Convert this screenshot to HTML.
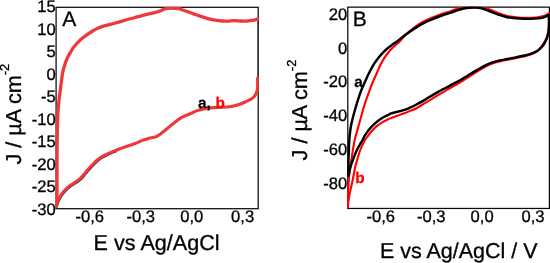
<!DOCTYPE html>
<html><head><meta charset="utf-8"><style>
html,body{margin:0;padding:0;background:#fff;}
svg{display:block;font-family:"Liberation Sans",sans-serif;}
text{text-rendering:geometricPrecision;}
.t{will-change:transform;}
</style></head><body>
<svg width="550" height="263" viewBox="0 0 550 263">
<rect width="550" height="263" fill="#fff"/>
<defs><clipPath id="cl"><rect x="55.5" y="6.7" width="203.3" height="202.6"/></clipPath><clipPath id="cr"><rect x="347.2" y="6.55" width="202.8" height="202.5"/></clipPath></defs>
<!-- frames -->
<g fill="none" stroke="#0a0a0a" stroke-width="1.25">
<rect x="56.1" y="7.3" width="202.1" height="201.4"/>
<rect x="347.8" y="7.15" width="201.6" height="201.3"/>
</g>
<!-- left curves -->
<g clip-path="url(#cl)" fill="none" stroke-linecap="round" stroke-linejoin="round">
<path d="M115.2,150.7C113.7,151.3 109.1,153.1 106.4,154.4C103.7,155.8 101.1,157.1 98.8,158.8C96.5,160.5 94.5,162.6 92.6,164.5C90.7,166.4 88.8,168.7 87.5,170.1C86.2,171.5 86.4,171.4 85.0,173.0C83.6,174.6 81.4,177.7 78.9,179.8C76.4,181.9 72.6,183.6 70.1,185.5C67.6,187.4 65.6,189.3 63.8,191.3C62.0,193.3 60.5,195.6 59.4,197.6C58.2,199.6 57.5,201.7 56.9,203.2C56.3,204.7 56.0,206.2 55.8,206.8" stroke="#333" stroke-width="2.4" transform="translate(0.5,0.8)"/>
<path d="M257.7,21V78" stroke="#333" stroke-width="0.7"/>
<path d="M55.9,206.5C56.0,205.8 56.3,203.6 56.5,202.0C56.7,200.4 56.9,200.7 57.0,197.0C57.1,193.3 57.0,186.2 57.0,180.0C57.1,173.8 57.0,166.2 57.0,160.0C57.1,153.8 57.1,148.3 57.1,143.0C57.2,137.7 57.3,133.0 57.4,128.0C57.5,123.0 57.7,117.2 57.9,113.0C58.1,108.8 58.4,106.0 58.8,102.6C59.1,99.2 59.6,95.8 60.0,92.5C60.4,89.2 60.8,86.2 61.2,83.0C61.6,79.8 62.0,76.2 62.6,73.0C63.2,69.8 64.2,66.6 65.1,63.8C66.0,61.0 67.2,58.3 68.2,56.3C69.2,54.2 70.1,53.0 71.0,51.5C71.9,50.0 72.3,48.9 73.8,47.0C75.3,45.1 78.0,42.1 80.1,40.1C82.2,38.1 84.3,36.6 86.4,35.1C88.5,33.6 90.5,32.2 92.6,31.0C94.7,29.8 96.8,28.7 98.9,27.8C101.0,26.9 103.1,26.2 105.2,25.6C107.3,25.0 109.4,24.7 111.5,24.1C113.6,23.6 115.0,23.1 117.7,22.3C120.4,21.5 124.6,20.3 127.5,19.5C130.4,18.7 132.2,18.3 135.1,17.5C138.0,16.7 142.2,15.5 145.1,14.8C148.0,14.1 150.3,13.8 152.6,13.2C154.9,12.6 157.0,12.0 158.9,11.3C160.8,10.7 162.4,9.8 163.9,9.3C165.4,8.8 166.0,8.6 167.7,8.4C169.4,8.2 172.1,8.2 174.0,8.3C175.9,8.4 177.6,8.4 179.0,8.7C180.4,9.0 180.9,9.4 182.7,10.0C184.5,10.6 187.7,11.7 190.0,12.5C192.3,13.3 194.2,14.1 196.3,14.8C198.4,15.5 200.4,16.2 202.5,16.9C204.6,17.6 206.7,18.3 208.8,18.8C210.9,19.3 212.8,19.7 215.1,20.1C217.4,20.5 220.5,20.8 222.6,21.0C224.7,21.2 225.7,21.2 227.6,21.1C229.5,21.1 231.8,20.7 233.9,20.7C236.0,20.7 238.1,20.9 240.2,21.0C242.3,21.1 244.4,21.2 246.5,21.1C248.6,21.0 250.8,20.6 252.7,20.3C254.6,20.0 257.1,19.3 258.0,19.1" stroke="#ef383d" stroke-width="3.3"/>
<path d="M257.6,78.0C257.6,79.8 257.8,85.8 257.5,88.5C257.2,91.2 256.7,92.6 255.8,94.3C254.9,96.0 253.8,97.3 252.0,98.6C250.2,99.9 247.4,101.0 245.2,102.0C243.0,103.0 241.0,103.8 238.9,104.5C236.8,105.2 234.7,105.9 232.6,106.3C230.5,106.7 229.5,106.8 226.4,107.0C223.3,107.2 217.4,107.3 213.8,107.6C210.2,107.9 207.8,108.1 205.0,108.6C202.2,109.1 199.5,109.7 197.0,110.6C194.5,111.5 192.6,112.8 190.2,113.8C187.8,114.8 185.2,115.6 182.7,116.9C180.2,118.2 177.7,120.0 175.2,121.9C172.7,123.8 169.9,126.3 167.6,128.2C165.3,130.1 163.3,131.8 161.4,133.2C159.5,134.6 158.4,135.7 156.3,136.6C154.2,137.5 151.1,137.8 148.8,138.4C146.5,139.0 144.8,139.6 142.5,140.4C140.2,141.2 138.1,142.4 135.2,143.5C132.3,144.6 128.5,145.7 125.2,146.9C121.9,148.1 118.3,149.4 115.2,150.7C112.1,151.9 109.1,153.1 106.4,154.4C103.7,155.8 101.1,157.1 98.8,158.8C96.5,160.5 94.5,162.6 92.6,164.5C90.7,166.4 88.8,168.7 87.5,170.1C86.2,171.5 86.4,171.4 85.0,173.0C83.6,174.6 81.4,177.7 78.9,179.8C76.4,181.9 72.6,183.6 70.1,185.5C67.6,187.4 65.6,189.3 63.8,191.3C62.0,193.3 60.5,195.6 59.4,197.6C58.2,199.6 57.5,201.7 56.9,203.2C56.3,204.7 56.0,206.2 55.8,206.8" stroke="#ef383d" stroke-width="3.1"/>
</g>
<!-- right curves -->
<g clip-path="url(#cr)" fill="none" stroke-linecap="round" stroke-linejoin="round">
<path d="M348.0,206.8C348.0,206.2 347.9,206.0 347.9,203.0C347.9,200.0 348.0,193.1 348.2,188.8C348.4,184.6 348.7,181.0 349.0,177.5C349.3,174.0 349.6,172.2 350.2,168.0C350.8,163.8 351.8,157.2 352.5,152.5C353.2,147.8 353.9,143.8 354.7,140.0C355.5,136.2 356.5,133.2 357.5,129.6C358.5,126.0 359.6,122.1 360.7,118.3C361.8,114.5 362.6,111.0 363.8,107.0C365.1,103.0 366.8,97.9 368.2,94.1C369.6,90.3 370.6,87.3 372.0,84.0C373.4,80.7 375.0,77.1 376.4,74.0C377.8,70.9 378.9,68.1 380.1,65.5C381.4,62.9 382.4,60.9 383.9,58.6C385.4,56.3 387.0,53.9 388.9,51.7C390.8,49.5 393.3,47.2 395.2,45.4C397.1,43.6 398.5,42.7 400.1,41.0C401.8,39.3 402.6,37.8 405.1,35.4C407.6,33.0 411.8,29.2 415.1,26.8C418.4,24.4 421.8,22.5 425.1,20.8C428.5,19.1 431.9,17.8 435.2,16.5C438.5,15.2 442.7,13.7 445.2,12.8C447.7,12.0 448.1,12.0 450.0,11.4C451.9,10.8 454.2,9.6 456.3,9.0C458.4,8.4 460.4,7.8 462.5,7.6C464.6,7.4 466.7,7.6 468.8,7.6C470.9,7.6 473.0,7.5 475.1,7.5C477.2,7.5 479.1,7.5 481.2,7.7C483.3,7.9 485.5,8.2 487.6,8.8C489.7,9.4 491.8,10.5 493.9,11.3C496.0,12.1 498.1,13.1 500.2,13.8C502.3,14.5 504.4,15.2 506.5,15.7C508.6,16.2 510.6,16.6 512.7,16.9C514.8,17.2 517.0,17.5 519.0,17.6C521.0,17.8 522.9,17.8 524.9,17.8C526.9,17.8 529.1,17.9 531.2,17.8C533.3,17.7 535.4,17.6 537.5,17.3C539.6,17.0 541.8,16.7 543.7,16.1C545.6,15.5 548.1,13.9 549.0,13.5" stroke="#ff0000" stroke-width="2.1"/>
<path d="M549.0,13.5C549.0,14.9 549.1,19.2 549.0,22.0C548.9,24.8 548.8,27.7 548.5,30.0C548.2,32.3 547.8,34.2 547.2,36.0C546.6,37.8 545.9,39.4 545.0,41.0C544.1,42.6 543.0,44.1 541.8,45.8C540.5,47.5 539.3,49.8 537.5,51.2C535.7,52.6 533.3,53.5 531.2,54.3C529.1,55.1 527.0,55.7 524.9,56.2C522.8,56.7 520.7,57.1 518.6,57.5C516.5,57.9 514.5,58.4 512.4,58.8C510.3,59.2 508.2,59.6 506.1,60.0C504.0,60.4 501.8,60.9 499.6,61.4C497.4,61.9 495.3,62.5 493.1,63.3C490.9,64.1 488.6,64.9 486.5,66.0C484.4,67.1 482.3,68.4 480.2,69.7C478.1,71.0 476.0,72.3 473.9,73.6C471.8,74.9 469.7,76.3 467.6,77.6C465.5,78.9 463.5,80.3 461.4,81.6C459.3,82.9 457.4,84.0 455.1,85.3C452.8,86.6 450.0,88.1 447.7,89.4C445.4,90.7 443.6,92.0 441.5,93.2C439.4,94.5 437.3,95.7 435.2,96.9C433.1,98.2 431.0,99.4 428.9,100.7C426.8,102.0 424.7,103.2 422.6,104.5C420.5,105.8 418.5,107.1 416.4,108.2C414.3,109.3 412.0,110.1 410.1,110.9C408.2,111.7 407.7,112.1 405.2,113.0C402.7,113.9 397.9,115.4 395.2,116.4C392.5,117.4 391.0,118.0 388.9,118.9C386.8,119.9 384.7,120.8 382.6,122.1C380.5,123.3 378.3,124.8 376.4,126.4C374.5,128.0 372.8,129.8 371.3,131.5C369.8,133.2 368.7,135.1 367.6,136.5C366.6,137.9 366.1,137.9 365.0,140.0C363.9,142.1 361.9,145.7 360.7,148.8C359.4,151.9 358.4,155.6 357.5,158.8C356.6,162.0 355.7,164.9 355.0,168.0C354.3,171.1 353.8,174.4 353.2,177.5C352.6,180.6 351.9,183.4 351.3,186.3C350.7,189.2 349.9,192.3 349.4,195.1C348.9,197.9 348.4,201.1 348.2,203.0C348.0,204.9 348.0,206.2 348.0,206.8" stroke="#ff0000" stroke-width="2.1"/>
<path d="M348.4,176.0C348.4,175.3 348.3,174.7 348.3,172.0C348.3,169.3 348.4,163.7 348.5,160.0C348.6,156.3 348.8,153.3 348.9,150.0C349.0,146.7 349.0,143.7 349.3,140.0C349.6,136.3 350.0,131.8 350.6,128.0C351.2,124.2 352.1,120.5 353.0,117.0C353.9,113.5 354.9,110.0 355.8,107.0C356.7,104.0 357.3,101.9 358.2,99.1C359.1,96.3 360.1,93.2 361.3,90.3C362.5,87.4 363.9,84.3 365.1,81.5C366.4,78.7 367.3,76.4 368.8,73.5C370.3,70.6 372.2,66.9 373.9,64.2C375.6,61.5 377.0,59.6 378.9,57.3C380.8,55.0 383.1,52.4 385.2,50.4C387.3,48.4 389.3,47.0 391.4,45.4C393.5,43.8 395.3,42.7 397.6,41.0C399.9,39.3 402.2,37.1 405.1,35.0C408.0,32.9 411.8,30.2 415.1,28.1C418.4,26.0 421.8,24.1 425.1,22.4C428.5,20.7 431.9,19.4 435.2,18.0C438.5,16.6 442.7,15.2 445.2,14.3C447.7,13.5 448.1,13.5 450.0,12.9C451.9,12.3 454.2,11.4 456.3,10.7C458.4,10.0 460.4,9.2 462.5,8.7C464.6,8.2 466.7,8.0 468.8,7.8C470.9,7.6 473.0,7.5 475.1,7.6C477.2,7.7 479.1,7.7 481.2,8.2C483.2,8.6 485.3,9.5 487.4,10.3C489.5,11.1 491.6,12.0 493.7,12.8C495.8,13.6 497.9,14.5 500.0,15.2C502.1,15.9 504.2,16.5 506.3,17.0C508.4,17.5 510.4,17.8 512.5,18.0C514.6,18.2 516.7,18.4 518.8,18.5C520.9,18.6 522.8,18.8 524.9,18.8C527.0,18.9 529.1,18.9 531.2,18.8C533.3,18.7 535.4,18.6 537.5,18.4C539.6,18.1 541.9,17.9 543.7,17.3C545.6,16.8 547.8,15.5 548.6,15.1" stroke="#000" stroke-width="2.45"/>
<path d="M548.6,15.1C548.7,16.2 549.0,19.5 549.0,22.0C549.0,24.5 549.0,27.6 548.8,30.0C548.5,32.4 548.0,34.4 547.5,36.3C547.0,38.2 546.4,39.6 545.6,41.3C544.8,43.0 543.9,44.7 542.5,46.3C541.1,47.9 539.4,49.5 537.5,50.7C535.6,51.9 533.3,52.8 531.2,53.6C529.1,54.4 527.0,55.0 524.9,55.5C522.8,56.0 520.7,56.3 518.6,56.7C516.5,57.1 514.5,57.6 512.4,58.0C510.3,58.4 508.2,58.8 506.1,59.2C504.0,59.6 501.8,60.0 499.6,60.5C497.4,61.0 495.3,61.5 493.1,62.2C490.9,62.9 488.6,63.8 486.5,64.8C484.4,65.8 482.3,67.0 480.2,68.2C478.1,69.4 476.0,70.7 473.9,71.9C471.8,73.2 469.7,74.4 467.6,75.7C465.5,77.0 463.5,78.3 461.4,79.5C459.3,80.7 457.4,81.7 455.1,82.9C452.8,84.1 450.0,85.7 447.7,86.9C445.4,88.1 443.6,88.9 441.5,90.0C439.4,91.1 437.3,92.4 435.2,93.6C433.1,94.8 431.0,96.0 428.9,97.3C426.8,98.5 424.7,99.9 422.6,101.1C420.5,102.3 418.5,103.4 416.4,104.5C414.3,105.6 412.0,106.8 410.1,107.6C408.2,108.4 407.3,108.9 405.2,109.6C403.1,110.3 399.8,111.2 397.5,111.8C395.2,112.4 392.7,112.8 391.3,113.3C389.9,113.8 390.3,113.8 388.9,114.5C387.4,115.2 384.7,116.4 382.6,117.7C380.5,119.0 378.5,120.3 376.4,122.1C374.3,123.9 372.0,126.1 370.1,128.3C368.2,130.5 366.4,133.2 365.1,135.2C363.9,137.1 363.9,137.7 362.6,140.0C361.3,142.3 359.0,145.9 357.5,148.8C356.0,151.7 354.9,154.7 353.8,157.6C352.7,160.5 351.5,163.4 350.6,166.3C349.7,169.2 348.9,173.6 348.6,175.0" stroke="#000" stroke-width="2.45"/>
</g>
<g class="t" stroke-width="0.3"><g font-size="16.6" fill="#000" stroke="#000" text-anchor="end">
<text x="55.7" y="12">15</text><text x="55.7" y="34.5">10</text><text x="55.7" y="57">5</text><text x="55.7" y="79.5">0</text>
<text x="55.7" y="102">-5</text><text x="55.7" y="124.5">-10</text><text x="55.7" y="147">-15</text><text x="55.7" y="169.5">-20</text>
<text x="55.7" y="192">-25</text><text x="55.7" y="214.5">-30</text>
<text x="347.3" y="19.6">20</text><text x="347.3" y="53.8">0</text><text x="347.3" y="87.4">-20</text>
<text x="347.3" y="121.2">-40</text><text x="347.3" y="155.1">-60</text><text x="347.3" y="188.6">-80</text>
</g>
<g font-size="16.6" fill="#000" stroke="#000" text-anchor="middle">
<text x="89.7" y="222">-0,6</text><text x="140.7" y="222">-0,3</text><text x="191.7" y="222">0,0</text><text x="242.6" y="222">0,3</text>
<text x="380.8" y="222">-0,6</text><text x="431.3" y="222">-0,3</text><text x="482.1" y="222">0,0</text><text x="533" y="222">0,3</text>
</g>
<g font-size="21.6" fill="#000" stroke="#000">
<text x="93.6" y="250.4">E vs Ag/AgCl</text>
<text font-size="21.5" x="379.9" y="258.3">E vs Ag/AgCl / V</text>
<text font-size="21.6" transform="translate(20.7,164.5) rotate(-90)">J / µA cm<tspan font-size="13" dy="-11.5">-2</tspan></text>
<text font-size="21.6" transform="translate(307,160.4) rotate(-90)">J / µA cm<tspan font-size="13" dy="-11.5">-2</tspan></text>
</g>
<g font-size="21" fill="#000" stroke="#000">
<text x="62.3" y="25.7">A</text>
<text x="352.8" y="25.8">B</text>
</g>
<g font-size="15.4" font-weight="bold" stroke-width="0.25">
<text x="198" y="108" fill="#000" stroke="#000">a,</text><text x="215.6" y="108" fill="#ff0000" stroke="#ff0000">b</text>
<text x="354.3" y="86.8" fill="#000" stroke="#000">a</text>
<text x="355.3" y="182.6" fill="#ff0000" stroke="#ff0000">b</text>
</g></g>
</svg>
</body></html>
